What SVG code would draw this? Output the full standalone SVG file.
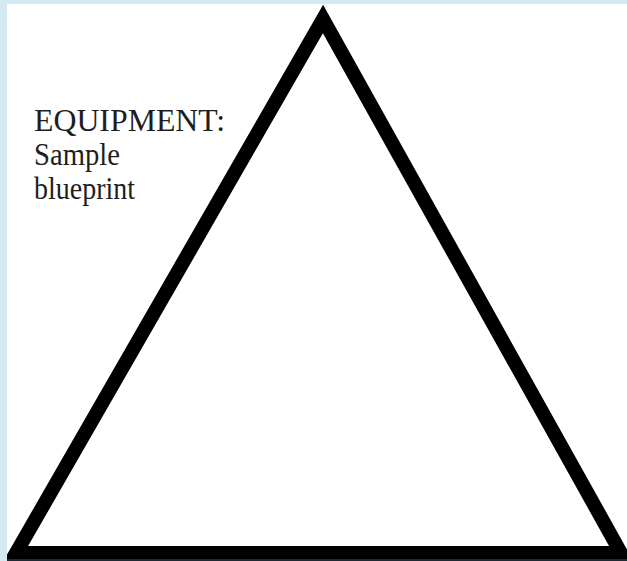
<svg xmlns="http://www.w3.org/2000/svg" width="627" height="561" viewBox="0 0 627 561">
  <style>
    .tri { fill: none; stroke: #000; stroke-width: 14; stroke-linejoin: miter; stroke-miterlimit: 10; }
    .lbl { font-family: "Liberation Serif", "Times New Roman", serif; font-size: 32px; fill: #1e1e1e; }
    .border { fill: #d4eaf2; }
  </style>
  <rect x="0" y="0" width="627" height="561" fill="#ffffff"/>
  <g id="triangle">
    <polygon class="tri" points="323,19 16,553 621,553"/>
  </g>
  <g id="label">
    <text class="lbl" x="34" y="131" textLength="191" lengthAdjust="spacingAndGlyphs">EQUIPMENT:</text>
    <text class="lbl" x="34" y="165" textLength="86" lengthAdjust="spacingAndGlyphs">Sample</text>
    <text class="lbl" x="34" y="199" textLength="101" lengthAdjust="spacingAndGlyphs">blueprint</text>
  </g>
  <g id="frame">
    <rect class="border" x="0" y="0" width="627" height="4"/>
    <rect class="border" x="0" y="0" width="7" height="561"/>
    <rect x="7" y="559" width="620" height="2" fill="#1c2a36"/>
  </g>
</svg>
